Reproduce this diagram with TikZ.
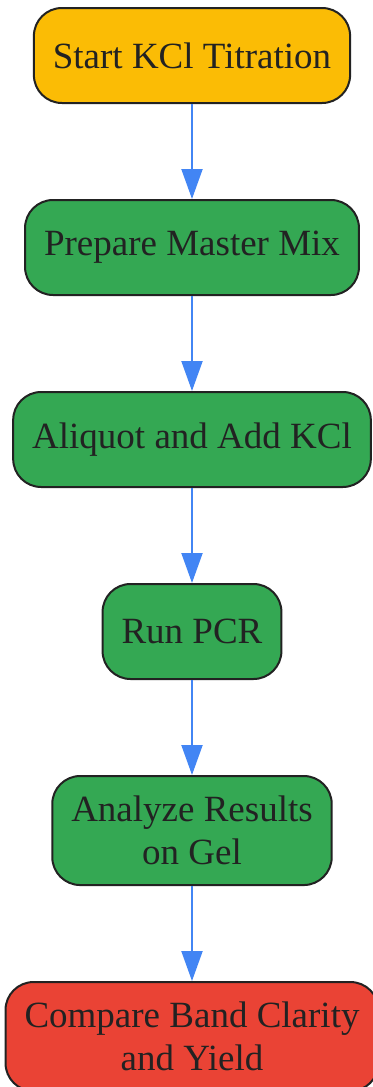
\documentclass[tikz,border=0pt]{standalone}
\usepackage{fontspec}
\setmainfont{Liberation Serif}
\usetikzlibrary{positioning,chains,arrows.meta}
\definecolor{startYellow}{HTML}{FBBC05}
\definecolor{stepGreen}{HTML}{34A853}
\definecolor{endRed}{HTML}{EA4335}
\definecolor{arrowBlue}{HTML}{4285F4}
\definecolor{boxBorder}{HTML}{222222}
\tikzset{
    >={Triangle[length=15pt,width=10.5pt]},
    stepchain/.style={
      rectangle,
      rounded corners=14pt,
      draw=boxBorder, line width=1pt,
      inner xsep=9.5pt,
      inner ysep=10pt,
      minimum height=47.5pt,
      align=center,
      text=boxBorder,
      font=\fontsize{18.5}{21.5}\selectfont,
      on chain},
    every join/.style={->, draw=arrowBlue, line width=1pt},
}
\begin{document}
\begin{tikzpicture}[node distance=47.5pt,start chain=going below,]
        \useasboundingbox (-96pt,27.75pt) rectangle (90.5pt,-515.75pt);
        \node[stepchain, fill=startYellow] (start) {Start KCl Titration};
        \node[stepchain, fill=stepGreen, join] (masterMix) {Prepare Master Mix};
        \node[stepchain, fill=stepGreen, join] (aliquot) {Aliquot and Add KCl};
        \node[stepchain, fill=stepGreen, join] (runPcr) {Run PCR};
        \node[stepchain, fill=stepGreen, join] (analyze) {Analyze Results\\on Gel};
        \node[stepchain, fill=endRed, join] (compare) {Compare Band Clarity\\and Yield};
    \end{tikzpicture}
\end{document}
